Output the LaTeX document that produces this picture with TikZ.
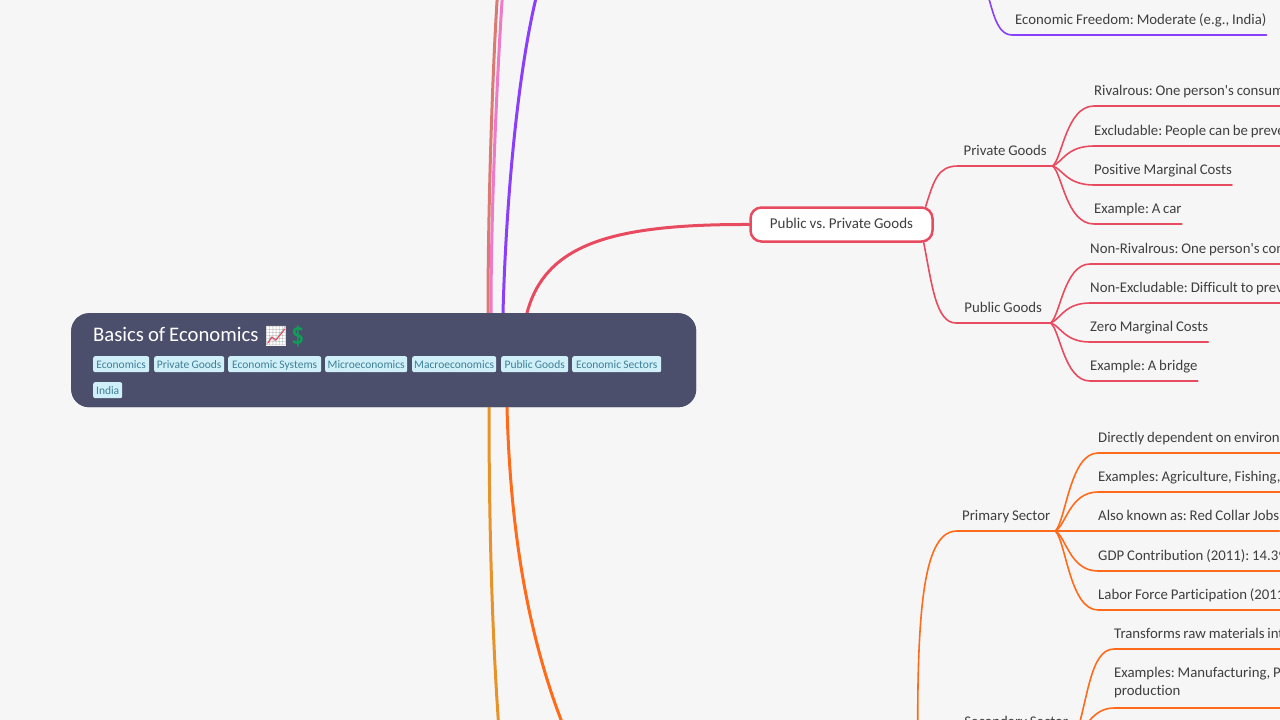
\documentclass[tikz,border=0pt]{standalone}
\usepackage{fontspec}
\setmainfont[Ligatures={NoCommon,TeXOff},WordSpace=0.85]{Carlito}
\newfontfamily\emojifont{Noto Emoji}
\AtBeginDocument{\frenchspacing}
\definecolor{bgc}{HTML}{F6F6F6}
\definecolor{rootc}{HTML}{4C4F6B}
\definecolor{tagfill}{HTML}{CFF0F9}
\definecolor{tagtext}{HTML}{3F7F95}
\definecolor{txt}{HTML}{3F3F3F}
\definecolor{redc}{HTML}{E84A5F}
\definecolor{orc}{HTML}{FF6B1A}
\definecolor{purc}{HTML}{8A3FFC}
\definecolor{pinkc}{HTML}{EE7AC8}
\definecolor{brownc}{HTML}{D97B72}
\definecolor{amberc}{HTML}{E8932A}
\definecolor{dollar}{HTML}{0F9D58}
\tikzset{
  x=1pt,y=-1pt,
  label14/.style={font=\fontsize{14.8}{18}\selectfont,text=txt,inner ysep=0pt,inner xsep=0pt,text height=11pt,text depth=10pt},
  leaf/.style={label14,anchor=south west},
  bigleaf/.style={leaf,align=left,text height={},text depth={}},
  branch/.style={label14,anchor=south west},
  mainline/.style={line width=3pt,line cap=round},
  subline/.style={line width=1.6pt,line cap=round},
  tag/.style={fill=tagfill,text=tagtext,rounded corners=2pt,font=\fontsize{11.5}{13}\selectfont,inner sep=0pt,anchor=north west,minimum height=16pt,text height=9.5pt,text depth=1.5pt},
}
\begin{document}
\begin{tikzpicture}
\useasboundingbox (0,0) rectangle (1280,720);
\fill[bgc] (0,0) rectangle (1280,720);
\begin{scope}
\clip (0,0) rectangle (1280,720);
% free ends off the picture
\coordinate (topbrown) at (497.5,-6);
\coordinate (toppink) at (502.5,-6);
\coordinate (toppurple) at (537,-6);
\coordinate (botamber) at (499,730);
\coordinate (botorange) at (565,730);
\coordinate (econroot) at (985,-14);
\coordinate (sectorroot) at (918,760);
% root
\node[fill=rootc,rounded corners=18pt,minimum width=625pt,minimum height=94pt,inner sep=0pt,anchor=north west] (root) at (71,313) {};
% first-level node
\node[draw=redc,fill=white,line width=2.5pt,rounded corners=11pt,minimum width=182pt,minimum height=34pt,inner sep=0pt,text=txt,font=\fontsize{15}{18}\selectfont] (ppg) at (841.5,224.5) {\raisebox{1.5pt}{Public vs. Private Goods}\hspace{3pt}};
% main connectors
\draw[mainline,redc] ([xshift=456pt]root.north west) .. controls (545,245) and (610,224) .. (ppg.west);
\draw[mainline,purc] ([xshift=432pt]root.north west) .. controls (506,200) and (518,70) .. (toppurple);
\draw[mainline,brownc] ([xshift=417pt]root.north west) .. controls (488,200) and (493,60) .. (topbrown);
\draw[mainline,pinkc] ([xshift=420pt]root.north west) .. controls (491,200) and (498,60) .. (toppink);
\draw[mainline,amberc] ([xshift=418pt]root.south west) .. controls (489,500) and (491,620) .. (botamber);
\draw[mainline,orc] ([xshift=436pt]root.south west) .. controls (510,520) and (525,630) .. (botorange);
% root face above the connector ends
\node[fill=rootc,rounded corners=18pt,minimum width=625pt,minimum height=94pt,inner sep=0pt,anchor=north west] (rootface) at (71,313) {};
\node[anchor=base west,inner sep=0pt,text=white,font=\fontsize{20.7}{24}\selectfont] (title) at (93,341) {Basics of Economics};
\node[anchor=north west,fill=white,minimum size=20pt,inner sep=0pt] (chart) at (266,326) {};
\node[anchor=center,inner sep=0pt,text=black!28,font=\emojifont\fontsize{19}{20}\selectfont] (charticon) at (chart.center) {📈};
\draw[redc,line width=1pt] (268,343) -- (272,337) -- (276,340) -- (285,329);
\node[anchor=center,inner sep=0pt,text=dollar,font=\emojifont\fontsize{21}{20}\selectfont] (dollaricon) at (298,336) {💲};
\node[tag,minimum width=56pt] (t1) at (93,356) {Economics};
\node[tag,minimum width=70pt] (t2) at (154,356) {Private Goods};
\node[tag,minimum width=93pt] (t3) at (228,356) {Economic Systems};
\node[tag,minimum width=82pt] (t4) at (325,356) {Microeconomics};
\node[tag,minimum width=84pt] (t5) at (412,356) {Macroeconomics};
\node[tag,minimum width=67pt] (t6) at (501,356) {Public Goods};
\node[tag,minimum width=89pt] (t7) at (572,356) {Economic Sectors};
\node[tag,minimum width=29pt] (t8) at (93,382) {India};
% economic freedom leaf
\node[leaf,minimum width=253pt,align=left] (ef) at (1012,35) {\hspace{3pt}Economic Freedom: Moderate (e.g., India)\hfill};
\draw[subline,purc] (econroot) .. controls (992,5) and (995,35) .. (ef.south west) -- (ef.south east);
% private goods
\node[branch,minimum width=94pt] (pg) at (958,166) {Private Goods};
\node[branch,minimum width=94pt] (pb) at (956,323) {Public Goods};
\draw[subline,redc] ([xshift=-8pt]ppg.north east) .. controls (934,180) and (938,166) .. (pg.south west) -- (pg.south east);
\draw[subline,redc] ([xshift=-10pt]ppg.south east) .. controls (932,285) and (936,323) .. (pb.south west) -- (pb.south east);
\node[leaf] (a1) at (1094,106) {Rivalrous: One person's consumption reduces another's};
\node[leaf] (a2) at (1094,146) {Excludable: People can be prevented from using it};
\node[leaf] (a3) at (1094,185) {Positive Marginal Costs\hspace{2pt}};
\node[leaf] (a4) at (1094,224) {Example: A car\hspace{2pt}};
\node[leaf] (b1) at (1090,264) {Non-Rivalrous: One person's consumption does not reduce};
\node[leaf] (b2) at (1090,303) {Non-Excludable: Difficult to prevent people from using it};
\node[leaf] (b3) at (1090,342) {Zero Marginal Costs\hspace{2pt}};
\node[leaf] (b4) at (1090,381) {Example: A bridge\hspace{2pt}};
\foreach \l/\ya/\yb in {a1/160/106,a2/163/146,a3/168/185,a4/172/224}{
  \draw[subline,redc] (pg.south east) .. controls (1062,\ya) and (1066,\yb) .. (\l.south west) -- (\l.south east);
}
\foreach \l/\ya/\yb in {b1/317/264,b2/320/303,b3/325/342,b4/329/381}{
  \draw[subline,redc] (pb.south east) .. controls (1060,\ya) and (1064,\yb) .. (\l.south west) -- (\l.south east);
}
% sectors
\node[branch,minimum width=98pt] (ps) at (957,531) {Primary Sector};
\node[branch,minimum width=118pt] (ss) at (957,737) {Secondary Sector};
\draw[subline,orc] (sectorroot) .. controls (916,600) and (925,531) .. (ps.south west) -- (ps.south east);
\node[leaf] (c1) at (1098,453) {Directly dependent on environment};
\node[leaf] (c2) at (1098,492) {Examples: Agriculture, Fishing, Mining};
\node[leaf] (c3) at (1098,531) {Also known as: Red Collar Jobs};
\node[leaf] (c4) at (1098,571) {GDP Contribution (2011): 14.39\%};
\node[leaf] (c5) at (1098,610) {Labor Force Participation (2011): 48.9\%};
\foreach \l/\ya/\yb in {c1/520/453,c2/525/492,c3/531/531,c4/537/571,c5/542/610}{
  \draw[subline,orc] (ps.south east) .. controls (1066,\ya) and (1070,\yb) .. (\l.south west) -- (\l.south east);
}
\node[leaf] (d1) at (1114,649) {Transforms raw materials into finished goods};
\node[bigleaf] (d2) at (1114,708) {Examples: Manufacturing, Power generation, Food production line\\production\rule[-12pt]{0pt}{1pt}};
\draw[subline,orc] (ss.south east) .. controls (1088,700) and (1090,649) .. (d1.south west) -- (d1.south east);
\draw[subline,orc] (ss.south east) .. controls (1085,730) and (1092,708) .. (d2.south west) -- (d2.south east);
\end{scope}
\end{tikzpicture}
\end{document}
